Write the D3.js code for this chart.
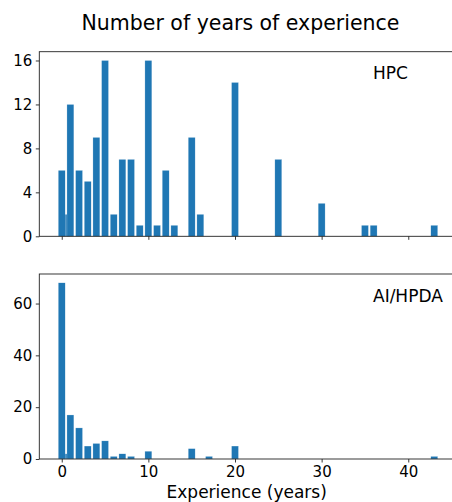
<!DOCTYPE html>
<html><head><meta charset="utf-8">
<script src="https://cdn.jsdelivr.net/npm/d3@7"></script>
<style>
html,body{margin:0;padding:0;background:#fff;}
text{font-family:"DejaVu Sans",sans-serif;fill:#000;}
</style></head>
<body>
<svg id="chart" width="452" height="502"></svg>
<script>
const title = "Number of years of experience";
const xLabel = "Experience (years)";
const xTicks = [0, 10, 20, 30, 40];

const hpcYears  = [0.5, 0, 1, 2, 3, 4, 5, 6, 7, 8, 9, 10, 11, 12, 13, 15, 16, 20, 25, 30, 35, 36, 43];
const hpcCounts = [2,   6, 12, 6, 5, 9, 16, 2, 7, 7, 1, 16, 1, 6, 1, 9, 2, 14, 7, 3, 1, 1, 1];
const hpcTicks  = [0, 4, 8, 12, 16];

const aiYears  = [0.5, 0, 1, 2, 3, 4, 5, 6, 7, 8, 10, 15, 17, 20, 43];
const aiCounts = [2,  68, 17, 12, 5, 6, 7, 1, 2, 1, 3, 4, 1, 5, 1];
const aiTicks  = [0, 20, 40, 60];

const panels = [
  {name: "HPC", years: hpcYears, counts: hpcCounts, ticks: hpcTicks, top: 51.7, bottom: 236.3, labelX: false},
  {name: "AI/HPDA", years: aiYears, counts: aiCounts, ticks: aiTicks, top: 274, bottom: 459, labelX: true}
];

const svg = d3.select("#chart");
const color = "#1f77b4";
const barW = 0.8;

const allYears = hpcYears.concat(aiYears);
const xmin = d3.min(allYears) - barW/2, xmax = d3.max(allYears) + barW/2;
const pad = (xmax - xmin) * 0.05;
const x = d3.scaleLinear().domain([xmin - pad, xmax + pad]).range([39.3, 456.7]);

svg.append("text").attr("x", 240.5).attr("y", 29.5).attr("text-anchor", "middle")
  .style("font-size", "20.5px").text(title);

panels.forEach(p => {
  const ymax = d3.max(p.counts) * 1.05;
  const y = d3.scaleLinear().domain([0, ymax]).range([p.bottom, p.top]);
  const g = svg.append("g");
  const data = p.years.map((yr, i) => ({yr, c: p.counts[i]}));
  g.selectAll("rect").data(data).enter().append("rect")
    .attr("x", d => x(d.yr - barW/2))
    .attr("width", d => x(d.yr + barW/2) - x(d.yr - barW/2))
    .attr("y", d => y(d.c))
    .attr("height", d => y(0) - y(d.c))
    .attr("fill", color)
    .attr("stroke", "#fff").attr("stroke-width", 0.4).attr("stroke-opacity", 0.6);

  const x0 = x.range()[0], x1 = x.range()[1];
  g.append("rect").attr("x", x0).attr("y", p.top).attr("width", x1 - x0).attr("height", p.bottom - p.top)
    .attr("fill", "none").attr("stroke", "#222").attr("stroke-width", 0.9);

  const yAxis = d3.axisLeft(y).tickValues(p.ticks).tickSize(3.5).tickPadding(3.5);
  const ya = svg.append("g").attr("transform", `translate(${x0},0)`).call(yAxis);
  ya.select(".domain").remove();
  ya.selectAll("line").attr("stroke", "#222").attr("stroke-width", 0.9);
  ya.selectAll("text").style("font-size", "15px").attr("fill", "#000").style("font-family", "DejaVu Sans");

  const xAxis = d3.axisBottom(x).tickValues(xTicks).tickSize(3.5).tickPadding(3.5)
    .tickFormat(p.labelX ? d3.format("d") : () => "");
  const xa = svg.append("g").attr("transform", `translate(0,${p.bottom})`).call(xAxis);
  xa.select(".domain").remove();
  xa.selectAll("line").attr("stroke", "#222").attr("stroke-width", 0.9);
  xa.selectAll("text").style("font-size", "15px").attr("fill", "#000").style("font-family", "DejaVu Sans");

  svg.append("text").attr("x", 373).attr("y", p.top + 27.6)
    .style("font-size", "17px").text(p.name);
});

svg.append("text").attr("x", 246.7).attr("y", 498).attr("text-anchor", "middle")
  .style("font-size", "17px").text(xLabel);
</script>
</body></html>
